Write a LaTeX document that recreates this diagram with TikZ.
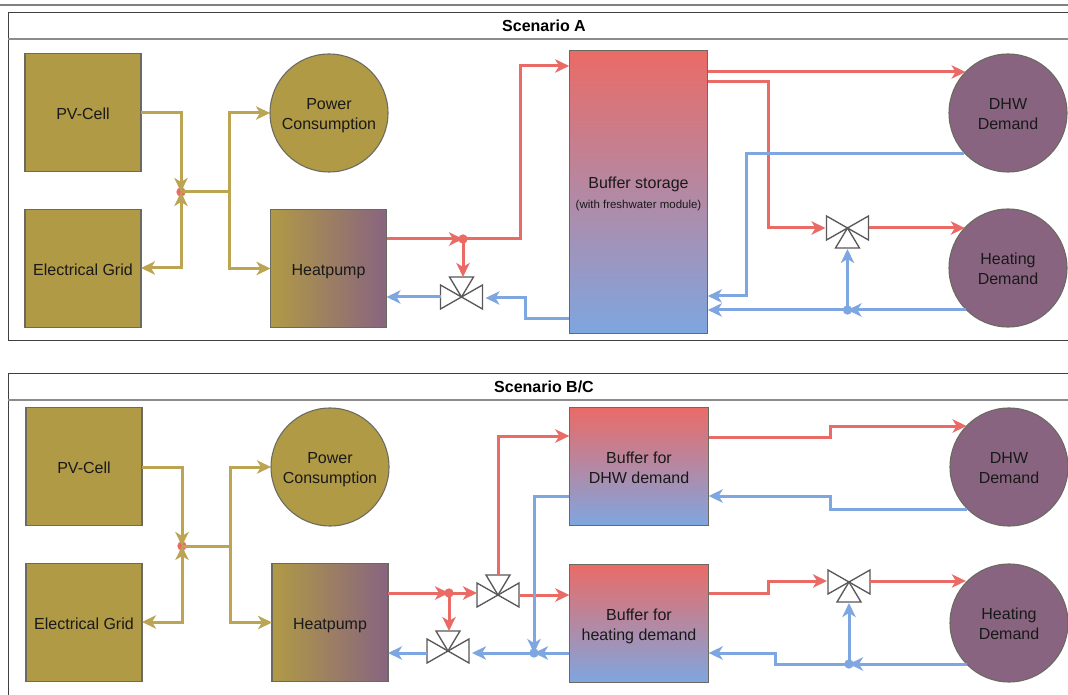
\documentclass[tikz,border=0pt]{standalone}
\usepackage{fontspec}
\setmainfont{Liberation Sans}
\usetikzlibrary{arrows.meta,calc}
\definecolor{gold}{HTML}{B09A45}
\definecolor{goldline}{HTML}{BBA452}
\definecolor{plum}{HTML}{886480}
\definecolor{redl}{HTML}{EA6B66}
\definecolor{bluel}{HTML}{7EA6E0}
\definecolor{edge}{HTML}{6A6A60}
\newcommand{\tl}[1]{\raisebox{-5pt}[0pt][0pt]{\begin{tabular}{@{}c@{}}#1\end{tabular}}}
\tikzset{
  lbl/.style={font=\fontsize{12pt}{15pt}\selectfont,align=center,text=black!90},
  base/.style={draw=edge,line width=0.8pt,inner sep=0pt,outer sep=0pt,lbl},
  pvbox/.style={base,rectangle,fill=gold,minimum width=87pt,minimum height=89pt},
  hpbox/.style={base,rectangle,left color=gold,right color=plum,minimum width=87pt,minimum height=89pt},
  demand/.style={base,circle,fill=plum,minimum size=88.5pt},
  consume/.style={base,circle,fill=gold,minimum size=88.5pt},
  tankbig/.style={base,rectangle,top color=redl,bottom color=bluel,minimum width=104pt,minimum height=212pt},
  tanksmall/.style={base,rectangle,top color=redl,bottom color=bluel,minimum width=104.5pt,minimum height=89pt},
  pipetip/.style={-{Stealth[length=10.5pt,width=10pt,inset=3pt]}},
  pipe/.style={line width=2.25pt,line join=miter,pipetip},
  plain/.style={line width=2.25pt,line join=miter},
  goldp/.style={draw=goldline},
  redp/.style={draw=redl},
  bluep/.style={draw=bluel},
  dot/.style={circle,inner sep=0pt,outer sep=0pt,minimum size=7pt},
  vtri/.style={draw=black!65,line width=1pt,fill=white,line join=miter},
  frameline/.style={draw=black!75,line width=0.6pt},
  headline/.style={draw=black!45,line width=0.9pt},
  heading/.style={font=\bfseries\fontsize{12pt}{14pt}\selectfont,text=black,inner sep=0pt},
  x=0.75pt,y=-0.75pt
}
% valve: name, x, y, direction of the stem (1 up, -1 down)
\newcommand{\valvesym}[4]{%
  \coordinate (#1) at (#2,#3);
  \coordinate (#1l) at (#2-21,#3);
  \coordinate (#1r) at (#2+21,#3);
  \coordinate (#1s) at (#2,#3-#4*20);
  \draw[vtri] (#1) -- (#2-21,#3-12) -- (#2-21,#3+12) -- cycle;
  \draw[vtri] (#1) -- (#2+21,#3-12) -- (#2+21,#3+12) -- cycle;
  \draw[vtri] (#1) -- (#2-12,#3-#4*20) -- (#2+12,#3-#4*20) -- cycle;
}
\begin{document}
\begin{tikzpicture}
\useasboundingbox (0,0) rectangle (1068,695);
\fill[white] (0,0) rectangle (1068,695);
% page rule and frames
\draw[draw=black!50,line width=1.2pt] (0,5) -- (1068,5);
\draw[frameline] (1068,12) -- (8,12) -- (8,340) -- (1068,340);
\draw[headline] (8,39) -- (1068,39);
\draw[frameline] (1068,373) -- (8,373) -- (8,695);
\draw[headline] (8,400) -- (1068,400);
\node[heading] (titleA) at (544,25.5) {Scenario A};
\node[heading] (titleB) at (544,386.5) {Scenario B/C};

%%% Scenario A
\node[pvbox] (pvA) at (83,112.5) {\tl{PV-Cell}};
\node[pvbox] (gridA) at (83,268.5) {\tl{Electrical Grid}};
\node[consume] (powA) at (329,113) {\tl{Power\\Consumption}};
\node[hpbox] (hpA) at (328.5,268.5) {\tl{Heatpump}};
\node[tankbig] (bufA) at (638.5,192) {\tl{Buffer storage\\[0pt]{\fontsize{8.6pt}{10pt}\selectfont(with freshwater module)}}};
\node[demand] (dhwA) at (1008,113) {\tl{DHW\\Demand}};
\node[demand] (heatA) at (1008,268) {\tl{Heating\\Demand}};
\node[dot,fill=redl] (jgA) at (181,192) {};
\node[dot,fill=redl] (jrA) at (463,239) {};
\node[dot,fill=bluel] (jbA) at (847.5,310) {};
\valvesym{vA}{461.5}{297}{1}
\valvesym{vB}{847.5}{228}{-1}

\coordinate (sA) at (229,192);
\draw[pipe,goldp] (pvA.east |- 0,113) -| (jgA.center);
\draw[plain,goldp] (jgA.center) -- (sA);
\draw[pipe,goldp] (sA) |- (powA.west);
\draw[pipe,goldp] (sA) |- (hpA.west);
\draw[line width=2.25pt,goldp,{Stealth[length=10.5pt,width=10pt,inset=3pt]}-{Stealth[length=10.5pt,width=10pt,inset=3pt]}] (jgA.center) |- (gridA.east |- 0,268);
\draw[pipe,redp] (hpA.east |- jrA) -- (jrA.center);
\draw[pipe,redp] (jrA.center) -- (520,239) -- (520,66) -- (bufA.west |- 0,66);
\draw[pipe,redp] (jrA.center) -- (jrA.center |- vAs);
\draw[pipe,bluep] (vAl) -- (hpA.east |- vAl);
\draw[pipe,bluep] (bufA.west |- 0,319) -- (525,319) -- (525,298) -- ($(vAr)+(3,1)$);
\draw[pipe,redp] (bufA.east |- 0,72) -- (dhwA.136 |- 0,72);
\draw[pipe,redp] (bufA.east |- 0,82) -- (768,82) -- (768,228) -- ($(vBl)+(-1,0)$);
\draw[pipe,redp] (vBr) -- (heatA.137 |- vBr);
\draw[pipe,bluep] (dhwA.222 |- 0,154) -- (746,154) -- (746,296) -- (bufA.east |- 0,296);
\draw[pipe,bluep] (heatA.224 |- jbA) -- (jbA.center);
\draw[pipe,bluep] (jbA.center) -- (bufA.east |- jbA);
\draw[pipe,bluep] (jbA.center) -- ($(vBs)+(0,1)$);

%%% Scenario B/C
\node[pvbox] (pvB) at (84,466.5) {\tl{PV-Cell}};
\node[pvbox] (gridB) at (84,622.5) {\tl{Electrical Grid}};
\node[consume] (powB) at (330,467) {\tl{Power\\Consumption}};
\node[hpbox] (hpB) at (330,622.5) {\tl{Heatpump}};
\node[tanksmall] (bufD) at (639,466.5) {\tl{Buffer for\\DHW demand}};
\node[tanksmall] (bufH) at (639,623.5) {\tl{Buffer for\\heating demand}};
\node[demand] (dhwB) at (1009,467) {\tl{DHW\\Demand}};
\node[demand] (heatB) at (1009,623) {\tl{Heating\\Demand}};
\node[dot,fill=redl] (jgB) at (182,546) {};
\node[dot,fill=redl] (jrB) at (449,593) {};
\node[dot,fill=bluel] (jbB) at (534,653) {};
\node[dot,fill=bluel] (jcB) at (849,664) {};
\valvesym{vC}{498}{595}{1}
\valvesym{vD}{448}{651}{1}
\valvesym{vE}{849}{582}{-1}

\coordinate (sB) at (230,546);
\draw[pipe,goldp] (pvB.east |- 0,467) -| (jgB.center);
\draw[plain,goldp] (jgB.center) -- (sB);
\draw[pipe,goldp] (sB) |- (powB.west);
\draw[pipe,goldp] (sB) |- (hpB.west);
\draw[line width=2.25pt,goldp,{Stealth[length=10.5pt,width=10pt,inset=3pt]}-{Stealth[length=10.5pt,width=10pt,inset=3pt]}] (jgB.center) |- (gridB.east |- 0,622);
\draw[pipe,redp] (hpB.east |- jrB) -- (jrB.center);
\draw[pipe,redp] (jrB.center) -- (477,593);
\draw[pipe,redp] (jrB.center) -- (jrB.center |- vDs);
\draw[pipe,redp] (vCs) -- (498,436) -- (bufD.west |- 0,436);
\draw[pipe,redp] (vCr) -- (bufH.west |- vCr);
\draw[pipe,bluep] (bufD.west |- 0,496) -- (534,496) -- (jbB.center);
\draw[pipe,bluep] (bufH.west |- jbB) -- (jbB.center);
\draw[pipe,bluep] (jbB.center) -- (472,653);
\draw[pipe,bluep] (vDl |- 0,653) -- (hpB.east |- 0,653);
\draw[pipe,redp] (bufD.east |- 0,437) -- (830,437) -- (830,426) -- (dhwB.136 |- 0,426);
\draw[pipe,bluep] (dhwB.224 |- 0,509) -- (830,509) -- (830,496) -- (bufD.east |- 0,496);
\draw[pipe,redp] (bufH.east |- 0,593.5) -- (768,593.5) -- (768,581) -- (827,581);
\draw[pipe,redp] (vEr |- 0,581) -- (heatB.137 |- 0,581);
\draw[pipe,bluep] (heatB.224 |- jcB) -- (jcB.center);
\draw[pipe,bluep] (jcB.center) -- (775,664) -- (775,653) -- (bufH.east |- 0,653);
\draw[pipe,bluep] (jcB.center) -- ($(vEs)+(0,1)$);
\end{tikzpicture}
\end{document}
